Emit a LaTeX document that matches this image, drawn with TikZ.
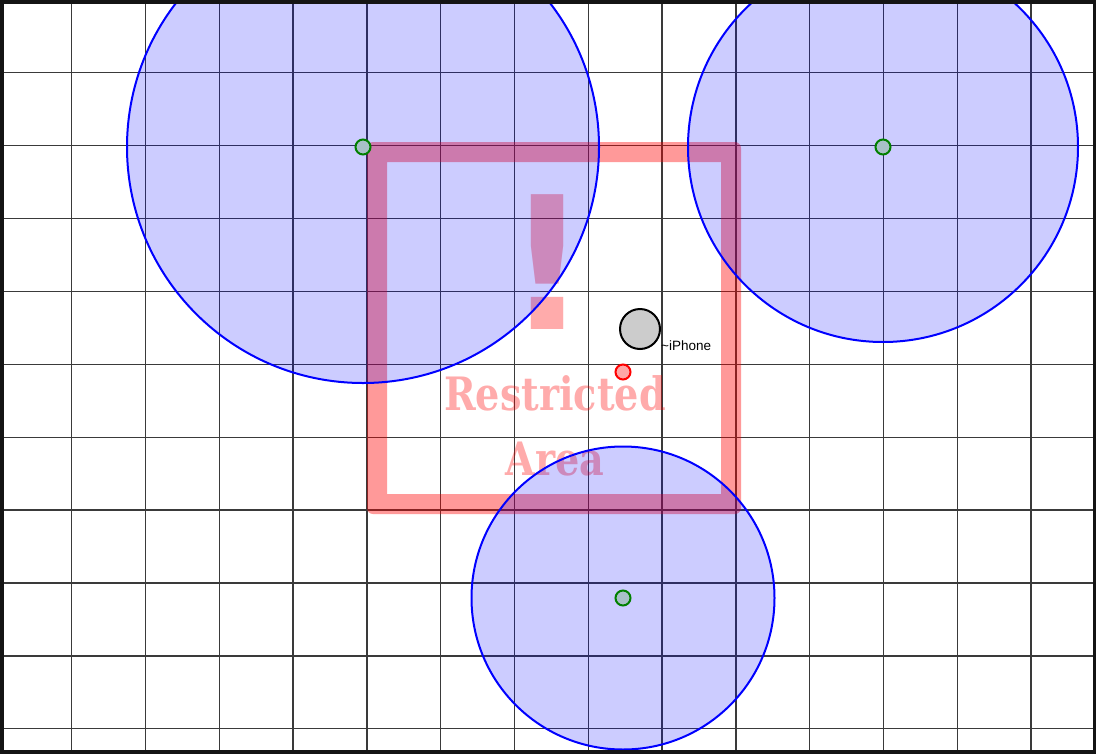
\documentclass[tikz,border=0pt]{standalone}
\usepackage{fontspec}
\setmainfont{DejaVu Serif}
\setsansfont{Liberation Sans}
\newfontfamily\bangfont{DejaVu Sans}
\usetikzlibrary{positioning}
\definecolor{gridline}{HTML}{3A3A3A}
\definecolor{frameborder}{HTML}{141414}
\definecolor{zoneblue}{HTML}{0000FF}
\definecolor{beacongreen}{HTML}{008000}
\definecolor{beaconfill}{HTML}{A8C0C8}
\definecolor{restrictred}{HTML}{FF0000}
\definecolor{phonegray}{HTML}{CCCCCC}
\tikzset{
  zone/.style={circle, inner sep=0pt, draw=zoneblue, line width=2pt,
    fill=zoneblue, fill opacity=0.2, draw opacity=1},
  beacon/.style={circle, inner sep=0pt, minimum size=15pt,
    draw=beacongreen, line width=2pt, fill=beaconfill},
  signtext/.style={text=restrictred, text opacity=0.33, inner sep=0pt,
    xscale=0.83, transform shape,
    font=\bfseries\fontsize{46}{50}\selectfont}
}

\begin{document}
\begin{tikzpicture}[x=1pt, y=-1pt]
  \useasboundingbox (0,0) rectangle (1096,753);
  % grid
  \foreach \k in {0,...,13}
    \draw[gridline, line width=1.3pt] ({71.7+73.8*\k},0) -- ++(0,753);
  \foreach \k in {0,...,9}
    \draw[gridline, line width=1.3pt] (0,{72.7+72.9*\k}) -- ++(1096,0);
  % restricted area
  \fill[restrictred, fill opacity=0.4, even odd rule]
    [rounded corners=6pt] (367,142) rectangle (741,514)
    [sharp corners] (387,162) rectangle (721,494);
  \node[signtext, xscale=1.2, font=\bangfont\bfseries\fontsize{185}{190}\selectfont,
    anchor=base] (bang) at (548,329) {!};
  \node[signtext, anchor=base] (signtop) at (555,410) {Restricted};
  \node[signtext, anchor=base] (signbottom) at (555,475) {Area};
  % beacon ranges
  \node[zone, minimum size=472pt] (zoneA) at (363,147) {};
  \node[zone, minimum size=390pt] (zoneB) at (883,147) {};
  \node[zone, minimum size=303pt] (zoneC) at (623,598) {};
  \node[beacon] (beaconA) at (zoneA.center) {};
  \node[beacon] (beaconB) at (zoneB.center) {};
  \node[beacon] (beaconC) at (zoneC.center) {};
  % phone
  \node[circle, inner sep=0pt, minimum size=40pt, draw=black, line width=2pt,
    fill=phonegray] (phone) at (640,329) {};
  \node[anchor=base west, inner sep=0pt,
    font=\sffamily\fontsize{13.5}{16}\selectfont]
    (phonelabel) at (phone.east |- phone.south) {\textasciitilde iPhone};
  \node[circle, inner sep=0pt, minimum size=15pt, draw=restrictred,
    line width=2pt, fill=restrictred!35] (estimate) at (623,372) {};
  % frame
  \draw[frameborder, line width=7pt] (0,0) rectangle (1096,753);
\end{tikzpicture}
\end{document}
